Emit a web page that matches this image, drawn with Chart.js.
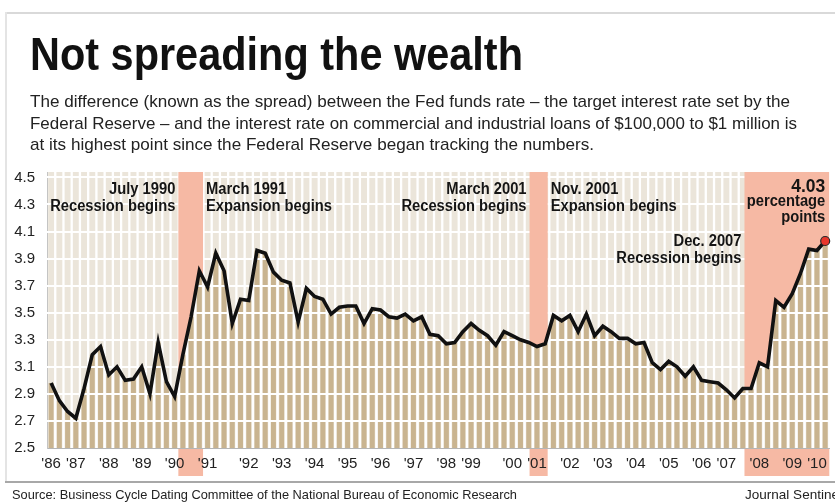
<!DOCTYPE html>
<html lang="en">
<head>
<meta charset="UTF-8" />
<title>Not spreading the wealth</title>
<script src="https://cdn.jsdelivr.net/npm/chart.js"></script>
<style>
  body { margin: 0; background: #fff; font-family: "Liberation Sans", Arial, sans-serif; color: #1b1b1b; }
  #wrap { position: relative; width: 835px; height: 502px; overflow: hidden; }
  #chart { position: absolute; left: 0; top: 0; }
  .frameT { position: absolute; left: 5px; right: 0; top: 12px; border-top: 2px solid #d9d9d9; }
  .frameL { position: absolute; left: 5px; top: 12px; height: 470px; border-left: 2px solid #e4e4e4; }
  .rule { position: absolute; left: 5px; right: 0; top: 481px; border-top: 2px solid #a8a8a8; }
  .fit { position: absolute; white-space: nowrap; transform-origin: 0 0; }
  h1 { margin: 0; left: 30px; top: 30px; font-size: 47px; line-height: 47px; font-weight: bold; color: #111; }
  .sub { left: 30px; font-size: 17px; line-height: 21px; color: #222; }
  .foot { top: 487px; font-size: 13px; line-height: 15px; color: #222; }
</style>
</head>
<body>
<div id="wrap">
  <canvas id="chart" width="835" height="502"></canvas>
  <div class="frameT"></div>
  <div class="frameL"></div>
  <h1 class="fit" data-w="493">Not spreading the wealth</h1>
  <div class="fit sub" style="top:91px" data-w="760">The difference (known as the spread) between the Fed funds rate – the target interest rate set by the</div>
  <div class="fit sub" style="top:112.5px" data-w="767">Federal Reserve – and the interest rate on commercial and industrial loans of $100,000 to $1 million is</div>
  <div class="fit sub" style="top:134px" data-w="564">at its highest point since the Federal Reserve began tracking the numbers.</div>
  <div class="rule"></div>
  <div class="fit foot" style="left:12px" data-w="505">Source: Business Cycle Dating Committee of the National Bureau of Economic Research</div>
  <div class="fit foot" style="left:745px" data-w="97">Journal Sentinel</div>
</div>

<script>
  // spread between C&I loan rate and Fed funds target, percentage points (quarterly, from 1986)
  const spread = [
    2.98, 2.85, 2.77, 2.72, 2.94, 3.19, 3.25, 3.04, 3.10, 3.00,
    3.01, 3.10, 2.90, 3.28, 2.99, 2.88, 3.19, 3.47, 3.81, 3.69,
    3.94, 3.81, 3.42, 3.60, 3.59, 3.96, 3.94, 3.80, 3.74, 3.72,
    3.43, 3.68, 3.62, 3.60, 3.49, 3.54, 3.55, 3.55, 3.42, 3.53,
    3.52, 3.47, 3.46, 3.49, 3.44, 3.47, 3.34, 3.33, 3.27, 3.28,
    3.36, 3.42, 3.37, 3.33, 3.26, 3.36, 3.33, 3.30, 3.28, 3.25,
    3.27, 3.48, 3.44, 3.48, 3.36, 3.49, 3.33, 3.40, 3.36, 3.31,
    3.31, 3.27, 3.28, 3.13, 3.08, 3.14, 3.10, 3.03, 3.10, 3.00,
    2.99, 2.98, 2.93, 2.87, 2.94, 2.94, 3.13, 3.10, 3.59, 3.54,
    3.64, 3.79, 3.97, 3.96, 4.03
  ];
  const quarters = spread.map((_, i) => (1986 + Math.floor(i / 4)) + ' Q' + (i % 4 + 1));

  const yearLabels = ["'86", "'87", "'88", "'89", "'90", "'91", "'92", "'93", "'94", "'95", "'96", "'97",
                      "'98", "'99", "'00", "'01", "'02", "'03", "'04", "'05", "'06", "'07", "'08", "'09", "'10"];
  const yearLabelAt = [0, 3, 7, 11, 15, 19, 24, 28, 32, 36, 40, 44, 48, 51, 56, 59, 63, 67, 71, 75, 79, 82, 86, 90, 93];
  const yTicks = [2.5, 2.7, 2.9, 3.1, 3.3, 3.5, 3.7, 3.9, 4.1, 4.3, 4.5];

  // recession periods, in category units (start, end)
  const recessions = [[15.45, 18.45], [58.1, 60.3], [84.2, 94.5]];

  const notes = [
    { lines: ['July 1990', 'Recession begins'], band: 0, side: 'before' },
    { lines: ['March 1991', 'Expansion begins'], band: 0, side: 'after' },
    { lines: ['March 2001', 'Recession begins'], band: 1, side: 'before' },
    { lines: ['Nov. 2001', 'Expansion begins'], band: 1, side: 'after' },
    { lines: ['Dec. 2007', 'Recession begins'], band: 2, side: 'before', low: true }
  ];
  const lastNote = ['4.03', 'percentage', 'points'];

  const SALMON = '#f6b9a4';
  const BEIGE = '#ebe5da';
  const TAN = '#c9b490';

  function px(scale, v) { return scale.getPixelForValue(v); }

  const backdrop = {
    id: 'backdrop',
    beforeDraw(chart) {
      // recession shading behind the year labels
      const { ctx, chartArea: a, scales: { x } } = chart;
      ctx.save();
      ctx.fillStyle = SALMON;
      recessions.forEach(([s, e]) => {
        const x0 = px(x, s), x1 = Math.min(px(x, e), a.right);
        ctx.fillRect(x0, a.bottom + 1, x1 - x0, 27);
      });
      ctx.restore();
    },
    beforeDatasetsDraw(chart) {
      const { ctx, chartArea: a, scales: { x } } = chart;
      const w = (px(x, 1) - px(x, 0)) * 0.72;
      ctx.save();
      ctx.fillStyle = BEIGE;
      quarters.forEach((_, i) => {
        ctx.fillRect(px(x, i) - w / 2, a.top, w, a.height);
      });
      ctx.restore();
    },
    afterDatasetDraw(chart, args) {
      if (args.meta.type !== 'bar') return;
      const { ctx, chartArea: a, scales: { x, y } } = chart;
      ctx.save();
      ctx.strokeStyle = '#fff';
      ctx.lineWidth = 2;
      yTicks.slice(1).forEach(v => {
        const py = Math.round(px(y, v));
        ctx.beginPath();
        ctx.moveTo(a.left, py);
        ctx.lineTo(a.right, py);
        ctx.stroke();
      });
      // shade recessions only above the line
      const pts = chart.getDatasetMeta(0).data;
      ctx.beginPath();
      ctx.moveTo(a.left, a.top);
      ctx.lineTo(a.left, pts[0].y);
      pts.forEach(p => ctx.lineTo(p.x, p.y));
      ctx.lineTo(a.right, pts[pts.length - 1].y);
      ctx.lineTo(a.right, a.top);
      ctx.closePath();
      ctx.clip();
      ctx.fillStyle = SALMON;
      recessions.forEach(([s, e]) => {
        const x0 = px(x, s), x1 = Math.min(px(x, e), a.right);
        ctx.fillRect(x0, a.top, x1 - x0, a.height);
      });
      ctx.restore();
    },
    afterDatasetsDraw(chart) {
      const { ctx, chartArea: a, scales: { x } } = chart;
      const put = (text, xx, yy, align, size) => {
        ctx.save();
        ctx.translate(xx, yy);
        ctx.scale(0.92, 1);
        ctx.font = 'bold ' + size + 'px "Liberation Sans", Arial, sans-serif';
        ctx.fillStyle = '#151515';
        ctx.textAlign = align;
        ctx.textBaseline = 'alphabetic';
        ctx.fillText(text, 0, 0);
        ctx.restore();
      };
      notes.forEach(n => {
        const [s, e] = recessions[n.band];
        const before = n.side === 'before';
        const xx = before ? px(x, s) - 3 : px(x, e) + 3;
        const y0 = a.top + (n.low ? 74 : 21.5);
        put(n.lines[0], xx, y0, before ? 'right' : 'left', 16);
        put(n.lines[1], xx, y0 + 17, before ? 'right' : 'left', 16);
      });
      const rx = a.right - 4;
      put(lastNote[0], rx, a.top + 19.5, 'right', 19);
      put(lastNote[1], rx, a.top + 33.5, 'right', 16);
      put(lastNote[2], rx, a.top + 49.5, 'right', 16);
    }
  };

  const last = spread.length - 1;

  new Chart(document.getElementById('chart'), {
    type: 'bar',
    data: {
      labels: quarters,
      datasets: [
        {
          type: 'line',
          data: spread,
          borderColor: '#111',
          borderWidth: 3.6,
          borderJoinStyle: 'miter',
          tension: 0,
          fill: false,
          order: 0,
          pointRadius: c => c.dataIndex === last ? 4.5 : 0,
          pointHoverRadius: 0,
          pointBackgroundColor: '#e8372c',
          pointBorderColor: '#2a2a2a',
          pointBorderWidth: 1.2
        },
        {
          data: spread,
          backgroundColor: TAN,
          barPercentage: 0.6,
          categoryPercentage: 1,
          order: 1
        }
      ]
    },
    options: {
      responsive: false,
      animation: false,
      events: [],
      layout: { padding: { top: 172, right: 2, bottom: 20, left: 0 } },
      plugins: { legend: { display: false }, tooltip: { enabled: false } },
      scales: {
        x: {
          grid: { display: false, drawTicks: false },
          border: { display: true, color: '#b5b5b5', width: 1 },
          afterFit: s => { s.height = 34; },
          afterBuildTicks: s => { s.ticks = yearLabelAt.map(v => ({ value: v })); },
          ticks: {
            autoSkip: false,
            maxRotation: 0,
            padding: 7,
            color: '#222',
            font: { family: '"Liberation Sans", Arial, sans-serif', size: 15 },
            callback: (v, i) => yearLabels[i]
          }
        },
        y: {
          min: 2.5,
          max: 4.54,
          grid: { display: false, drawTicks: false },
          border: { display: true, color: '#c4c4c4', width: 1 },
          afterFit: s => { s.width = 47; },
          afterBuildTicks: s => { s.ticks = yTicks.map(v => ({ value: v })); },
          ticks: {
            padding: 12,
            color: '#222',
            font: { family: '"Liberation Sans", Arial, sans-serif', size: 15 },
            callback: v => v.toFixed(1)
          }
        }
      }
    },
    plugins: [backdrop]
  });

  // squeeze the headline texts to the condensed widths of the original
  document.querySelectorAll('.fit').forEach(el => {
    const w = el.getBoundingClientRect().width;
    el.style.transform = 'scaleX(' + (Number(el.dataset.w) / w) + ')';
  });
</script>
</body>
</html>
